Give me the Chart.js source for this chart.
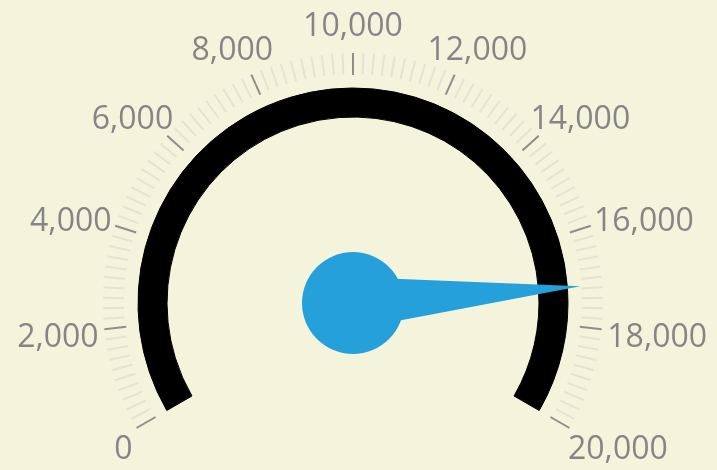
<!DOCTYPE html>
<html>
<head>
<meta charset="utf-8">
<script src="https://cdn.jsdelivr.net/npm/chart.js@4.4.1/dist/chart.umd.min.js"></script>
<style>
  html, body { margin: 0; padding: 0; background: #f4f4dc; }
  canvas { display: block; }
</style>
</head>
<body>
<canvas id="gauge" width="717" height="470"></canvas>
<script>
// Gauge scale and reading
const scaleMin = 0;
const scaleMax = 20000;
const reading = [17150];
const majorTickValues = [0, 2000, 4000, 6000, 8000, 10000, 12000, 14000, 16000, 18000, 20000];
const majorTickLabels = ['0', '2,000', '4,000', '6,000', '8,000', '10,000', '12,000', '14,000', '16,000', '18,000', '20,000'];
const minorTickInterval = 200;

// Angle of a scale value, taken from the band arcs laid out by Chart.js
function angleOf(meta, v) {
  const first = meta.data[0];
  const last = meta.data[meta.data.length - 1];
  const start = first.startAngle;
  const end = last.endAngle;
  return start + (v - scaleMin) / (scaleMax - scaleMin) * (end - start);
}

const gaugeDecor = {
  id: 'gaugeDecor',
  beforeDatasetsDraw(chart) {
    const meta = chart.getDatasetMeta(0);
    const arc = meta.data[0];
    const cx = arc.x, cy = arc.y, R = arc.outerRadius;
    const ctx = chart.ctx;
    ctx.save();
    ctx.lineCap = 'butt';
    // minor ticks
    ctx.strokeStyle = '#e4e3d3';
    ctx.lineWidth = 2;
    for (let v = scaleMin; v <= scaleMax; v += minorTickInterval) {
      if (majorTickValues.includes(v)) continue;
      const a = angleOf(meta, v);
      ctx.beginPath();
      ctx.moveTo(cx + (R + 14) * Math.cos(a), cy + (R + 14) * Math.sin(a));
      ctx.lineTo(cx + (R + 35) * Math.cos(a), cy + (R + 35) * Math.sin(a));
      ctx.stroke();
    }
    // major ticks
    ctx.strokeStyle = '#8e8e8a';
    ctx.lineWidth = 2;
    majorTickValues.forEach(v => {
      const a = angleOf(meta, v);
      ctx.beginPath();
      ctx.moveTo(cx + (R + 13) * Math.cos(a), cy + (R + 13) * Math.sin(a));
      ctx.lineTo(cx + (R + 35) * Math.cos(a), cy + (R + 35) * Math.sin(a));
      ctx.stroke();
    });
    // tick labels
    ctx.font = '32px "Open Sans"';
    ctx.fillStyle = '#858585';
    ctx.textAlign = 'center';
    ctx.textBaseline = 'alphabetic';
    majorTickValues.forEach((v, i) => {
      const a = angleOf(meta, v);
      const txt = majorTickLabels[i];
      const w = ctx.measureText(txt).width;
      const x = cx + (R + 41 + w / 2) * Math.cos(a);
      const y = cy + 3.3 + (R + 67) * Math.sin(a) + 11.4;
      ctx.fillText(txt, x, y);
    });
    ctx.restore();
  },
  afterDatasetsDraw(chart) {
    const meta = chart.getDatasetMeta(0);
    const arc = meta.data[0];
    const cx = arc.x, cy = arc.y;
    const a = arc.endAngle; // end of the reading slice
    const ctx = chart.ctx;
    const tipR = 228, baseHalf = 26, hubR = 51;
    ctx.save();
    ctx.fillStyle = '#25a0da';
    ctx.beginPath();
    ctx.moveTo(cx + baseHalf * Math.cos(a - Math.PI / 2), cy + baseHalf * Math.sin(a - Math.PI / 2));
    ctx.lineTo(cx + tipR * Math.cos(a), cy + tipR * Math.sin(a));
    ctx.lineTo(cx + baseHalf * Math.cos(a + Math.PI / 2), cy + baseHalf * Math.sin(a + Math.PI / 2));
    ctx.closePath();
    ctx.fill();
    ctx.beginPath();
    ctx.arc(cx, cy, hubR, 0, Math.PI * 2);
    ctx.fill();
    ctx.restore();
  }
};

new Chart(document.getElementById('gauge'), {
  type: 'doughnut',
  data: {
    labels: ['reading', 'remaining'],
    datasets: [{
      data: [reading[0] - scaleMin, scaleMax - reading[0]],
      backgroundColor: ['#000000', '#000000'],
      borderColor: '#000000',
      borderWidth: 1,
      hoverOffset: 0
    }]
  },
  options: {
    responsive: false,
    animation: false,
    devicePixelRatio: 1,
    events: [],
    rotation: -120,
    circumference: 240,
    radius: 215,
    cutout: '86.5%',
    layout: { padding: { left: 0, right: 11, top: 28.5, bottom: 0 } },
    plugins: { legend: { display: false }, tooltip: { enabled: false } }
  },
  plugins: [gaugeDecor]
});
</script>
</body>
</html>
